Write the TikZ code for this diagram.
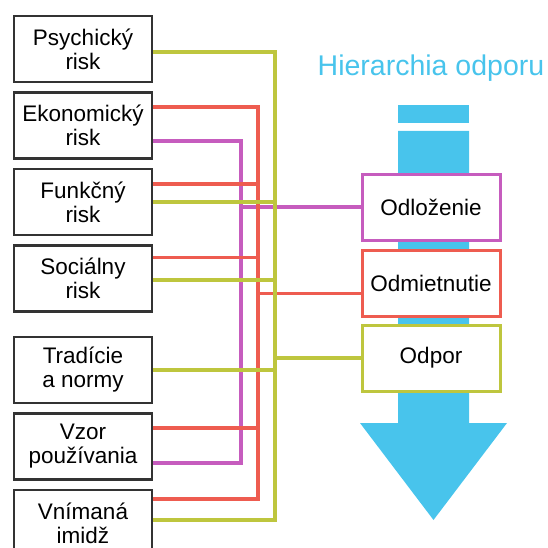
\documentclass[tikz,border=0pt]{standalone}
\usepackage{fontspec}
\setmainfont{Liberation Sans}
\usetikzlibrary{positioning}
\definecolor{olv}{RGB}{190,198,62}
\definecolor{rdl}{RGB}{238,92,80}
\definecolor{mgt}{RGB}{198,92,190}
\definecolor{sky}{RGB}{72,196,236}

\begin{document}
\begin{tikzpicture}[x=1pt,y=-1pt,node distance=8pt,
      risk node/.style={draw=black!80,line width=2.5pt,fill=white,minimum width=138pt,minimum height=66pt,
        inner sep=0pt,align=center,font=\fontsize{22.5}{24}\selectfont},
      level node/.style={line width=3pt,fill=white,minimum width=138pt,minimum height=66pt,
        inner sep=0pt,font=\fontsize{22.5}{24}\selectfont},
      link/.style={line width=3.5pt}]
      \useasboundingbox (0,0) rectangle (547,548);
      \clip (0,0) rectangle (547,548);

      % blue arrow
      \fill[sky] (398,105) rectangle (469,123);
      \fill[sky] (398,131) -- (469,131) -- (469,423) -- (507,423) -- (433.5,520)
        -- (360,423) -- (398,423) -- cycle;
      \node[text=sky,font=\fontsize{28.5}{30}\selectfont] (title) at (431,68) {Hierarchia odporu};

      % left boxes
      \node[risk node] (psy) at (83,49) {Psychický\\risk};
      \node[risk node] (eko) [below=of psy] {Ekonomický\\risk};
      \node[risk node] (fun) [below=of eko] {Funkčný\\risk};
      \node[risk node] (soc) [below=of fun] {Sociálny\\risk};
      \node[risk node] (trad) [below=23pt of soc] {Tradície\\a normy};
      \node[risk node] (vzor) [below=of trad] {Vzor\\používania};
      \node[risk node] (vnim) [below=of vzor] {Vnímaná\\imidž};

      % right boxes
      \node[level node,draw=mgt] (odl) at (431,207) {Odloženie};
      \node[level node,draw=rdl] (odm) [below=7pt of odl] {Odmietnutie};
      \node[level node,draw=olv] (odp) [below=6pt of odm] {Odpor};

      \coordinate (mgtbus) at (241,300);
      \coordinate (rdlbus) at (258,300);
      \coordinate (olvbus) at (275,300);
      \coordinate (odmin) at ([yshift=-10.5pt]odm.west);

      % magenta
      \draw[link,mgt] ([yshift=-15.5pt]eko.east) -| (mgtbus) |- ([yshift=-16.5pt]vzor.east);
      \draw[link,mgt] (mgtbus |- odl.west) -- (odl.west);

      % red
      \draw[link,rdl] ([yshift=18.5pt]eko.east) -| (rdlbus) |- ([yshift=24pt]vnim.east);
      \draw[link,rdl] ([yshift=18pt]fun.east) -- ([yshift=18pt]fun.east -| rdlbus);
      \draw[link,rdl] ([yshift=21pt]soc.east) -- ([yshift=21pt]soc.east -| rdlbus);
      \draw[link,rdl] ([yshift=18.5pt]vzor.east) -- ([yshift=18.5pt]vzor.east -| rdlbus);
      \draw[link,rdl] (odmin -| rdlbus) -- (odmin);

      % olive
      \draw[link,olv] ([yshift=-3pt]psy.east) -| (olvbus) |- ([yshift=3pt]vnim.east);
      \draw[link,olv] (fun.east) -- (fun.east -| olvbus);
      \draw[link,olv] ([yshift=-1.5pt]soc.east) -- ([yshift=-1.5pt]soc.east -| olvbus);
      \draw[link,olv] (trad.east) -- (trad.east -| olvbus);
      \draw[link,olv] (olvbus |- odp.west) -- (odp.west);
    \end{tikzpicture}
\end{document}
